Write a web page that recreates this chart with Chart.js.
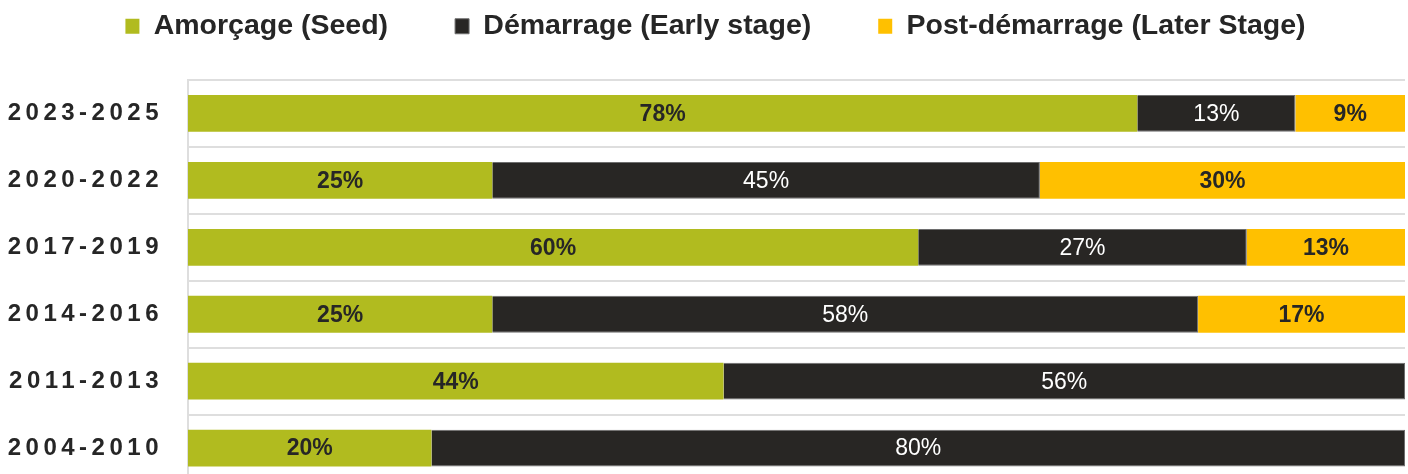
<!DOCTYPE html>
<html>
<head>
<meta charset="utf-8">
<script src="https://cdn.jsdelivr.net/npm/chart.js@4/dist/chart.umd.min.js"></script>
<style>
  html, body { margin: 0; padding: 0; background: #fff; overflow: hidden; }
  #wrap { position: relative; width: 1408px; height: 521px; }
</style>
</head>
<body>
<div id="wrap"><canvas id="stades"></canvas></div>
<script>
const periodes = ['2023-2025', '2020-2022', '2017-2019', '2014-2016', '2011-2013', '2004-2010'];
const amorcage = [78, 25, 60, 25, 44, 20];
const demarrage = [13, 45, 27, 58, 56, 80];
const postDemarrage = [9, 30, 13, 17, 0, 0];

const VERT = '#b1bb1f';
const NOIR = '#282624';
const JAUNE = '#ffc000';
const TEXTE = '#262626';
const POLICE = '"Liberation Sans", Arial, sans-serif';

// legend: wide spacing between items, compact height, items pulled up
const legendeCompacte = {
    id: 'legendeCompacte',
    beforeInit(chart) {
        const leg = chart.legend;
        const fit = leg.fit;
        leg.fit = function () {
            fit.call(this);
            this.height = 80;
        };
        const dessin = leg._draw;
        leg._draw = function () {
            const c = this.ctx;
            c.save();
            c.translate(0, -55);
            dessin.call(this);
            c.restore();
        };
    }
};

// spaced-out period labels on the y axis, not clipped to the scale box
const espacementY = {
    id: 'espacementY',
    beforeDraw(chart) {
        const s = chart.scales.y;
        if (s._espace) return;
        const orig = s.drawLabels;
        s._computeLabelArea = () => undefined;
        s.drawLabels = function (area) {
            const c = this.ctx;
            c.save();
            c.letterSpacing = '4.5px';
            orig.call(this, area);
            c.restore();
        };
        s._espace = true;
    }
};

// percentage written in the middle of each segment
const etiquettes = {
    id: 'etiquettes',
    afterDatasetsDraw(chart) {
        const ctx = chart.ctx;
        ctx.save();
        ctx.textAlign = 'center';
        ctx.textBaseline = 'middle';
        chart.data.datasets.forEach((ds, i) => {
            const meta = chart.getDatasetMeta(i);
            meta.data.forEach((bar, j) => {
                const v = ds.data[j];
                if (!v) return;
                const p = bar.getCenterPoint();
                ctx.font = (ds.labelBold ? 'bold ' : '') + '23px ' + POLICE;
                ctx.fillStyle = ds.labelColor;
                ctx.fillText(v + '%', p.x, p.y + 1);
            });
        });
        ctx.restore();
    }
};

new Chart(document.getElementById('stades'), {
    type: 'bar',
    data: {
        labels: periodes,
        datasets: [
            { label: 'Amorçage (Seed)', data: amorcage, backgroundColor: VERT,
              borderWidth: 0, labelColor: TEXTE, labelBold: true },
            { label: 'Démarrage (Early stage)', data: demarrage, backgroundColor: NOIR,
              borderColor: '#6e6e6e', borderWidth: 1, labelColor: '#ffffff', labelBold: false },
            { label: 'Post-démarrage (Later Stage)', data: postDemarrage, backgroundColor: JAUNE,
              borderWidth: 0, labelColor: TEXTE, labelBold: true }
        ]
    },
    options: {
        indexAxis: 'y',
        responsive: true,
        maintainAspectRatio: false,
        animation: false,
        datasets: {
            bar: { barPercentage: 0.55, categoryPercentage: 1 }
        },
        layout: {
            padding: { left: 26, right: 3, top: 0, bottom: 0 }
        },
        plugins: {
            legend: {
                position: 'top',
                labels: {
                    color: TEXTE,
                    font: { family: POLICE, size: 28.5, weight: 'bold' },
                    boxWidth: 14,
                    boxHeight: 15,
                    padding: 67
                }
            },
            tooltip: { enabled: false }
        },
        scales: {
            x: {
                stacked: true,
                display: false,
                min: 0,
                max: 100
            },
            y: {
                stacked: true,
                afterFit(scale) { scale.width = 162; },
                grid: { color: '#dedede', lineWidth: 2, drawTicks: false, offset: true },
                border: { display: true, color: '#dedede', width: 2 },
                ticks: {
                    color: TEXTE,
                    padding: 25,
                    font: { family: POLICE, size: 24, weight: 'bold' }
                }
            }
        }
    },
    plugins: [legendeCompacte, espacementY, etiquettes]
});
</script>
</body>
</html>
